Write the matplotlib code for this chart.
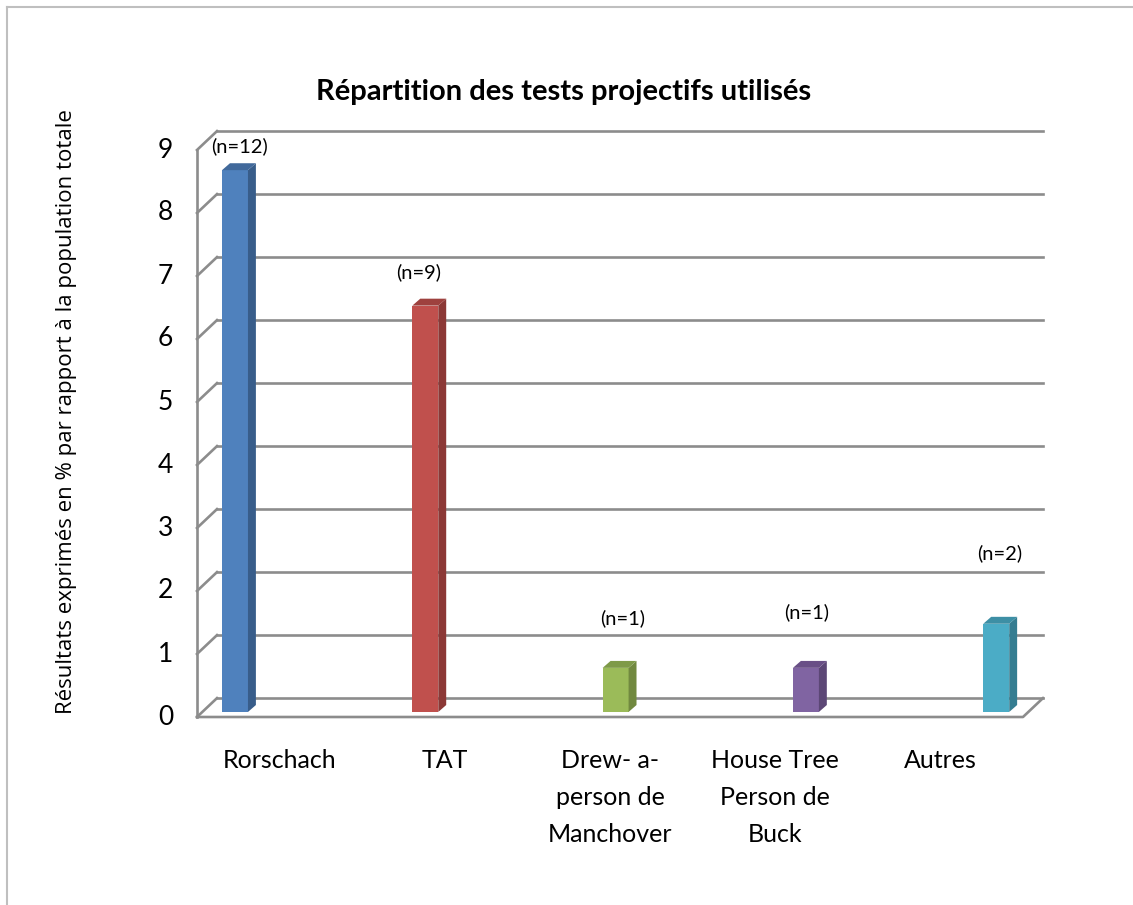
import numpy as np
import matplotlib.pyplot as plt
from matplotlib.patches import Polygon, Rectangle

# data
categories = ['Rorschach', 'TAT', 'Drew- a-\nperson de\nManchover',
              'House Tree\nPerson de\nBuck', 'Autres']
values = [8.6, 6.45, 0.7, 0.7, 1.4]
counts = ['(n=12)', '(n=9)', '(n=1)', '(n=1)', '(n=2)']
yticks = list(range(0, 10))

front = ['#4F81BD', '#C0504D', '#9BBB59', '#8064A2', '#4BACC6']
side = ['#385D8A', '#8C3836', '#71893F', '#5C4776', '#357D91']
top = ['#41699B', '#9E413E', '#7E9A48', '#694F86', '#3D8FA5']

# layout (category units on x, value units on y)
dx, dy = 0.121, 0.30          # depth of the wall/floor
bw, bdx, bdy = 0.157, 0.048, 0.11   # bar width and bar side depth
base = 0.08
bar_x = [-0.27 + 1.152 * i for i in range(len(values))]
lab_x = [-0.24, 0.84, 2.075, 3.19, 4.36]
lab_y = [9.06, 7.06, 1.57, 1.67, 2.6]

fig = plt.figure(figsize=(11.33, 9.05), dpi=100)
ax = fig.add_axes([0, 0, 1, 1])
ax.set_xlim(-0.5 - 197 / 165.2, -0.5 + (1133 - 197) / 165.2)
ax.set_ylim((717 - 905) / 63, 717 / 63)
ax.axis('off')

gc = '#8C8C8C'
glw = 1.9
x0, x1 = -0.5, len(categories) - 0.5
for v in yticks:
    ax.plot([x0 + dx, x1 + dx], [v + dy, v + dy], color=gc, lw=glw, zorder=1)
    ax.plot([x0, x0 + dx], [v, v + dy], color=gc, lw=glw, zorder=1)
    ax.text(x0 - 0.145, v, str(v), ha='right', va='center', fontsize=19,
            family='Lato')
ax.plot([x0, x0], [0, max(yticks)], color=gc, lw=glw, zorder=1)
ax.plot([x0, x1, x1 + dx], [0, 0, dy], color=gc, lw=glw, zorder=1)

for i, v in enumerate(values):
    cx = bar_x[i]
    l, r = cx - bw / 2, cx + bw / 2
    ax.add_patch(Rectangle((l, base), bw, v, facecolor=front[i],
                           edgecolor='none', zorder=3))
    ax.add_patch(Polygon([(r, base), (r + bdx, base + bdy),
                          (r + bdx, base + v + bdy), (r, base + v)],
                         facecolor=side[i], edgecolor='none', zorder=3))
    ax.add_patch(Polygon([(l, base + v), (l + bdx, base + v + bdy),
                          (r + bdx, base + v + bdy), (r, base + v)],
                         facecolor=top[i], edgecolor='none', zorder=3))
    ax.text(lab_x[i], lab_y[i], counts[i], ha='center', va='center',
            fontsize=14.5, family='Lato', zorder=4)

for i, c in enumerate(categories):
    ax.text(i, -0.5, c, ha='center', va='top', fontsize=18,
            family='Lato', linespacing=1.75)

fig.text(564 / 1133, 1 - 92 / 905, 'Répartition des tests projectifs utilisés',
         ha='center', va='center', fontsize=21, fontweight='bold',
         family='Lato')
fig.text(67 / 1133, 1 - 412 / 905,
         'Résultats exprimés en % par rapport à la population totale',
         ha='center', va='center', rotation=90, fontsize=16,
         family='Open Sans')

# chart area border (top and left only visible)
ax.plot([7 / 1133, 1], [1 - 7 / 905, 1 - 7 / 905], transform=ax.transAxes,
        color='#BFBFBF', lw=1.5)
ax.plot([7 / 1133, 7 / 1133], [0, 1 - 7 / 905], transform=ax.transAxes,
        color='#BFBFBF', lw=1.5)

fig.savefig('out.png', dpi=100)
